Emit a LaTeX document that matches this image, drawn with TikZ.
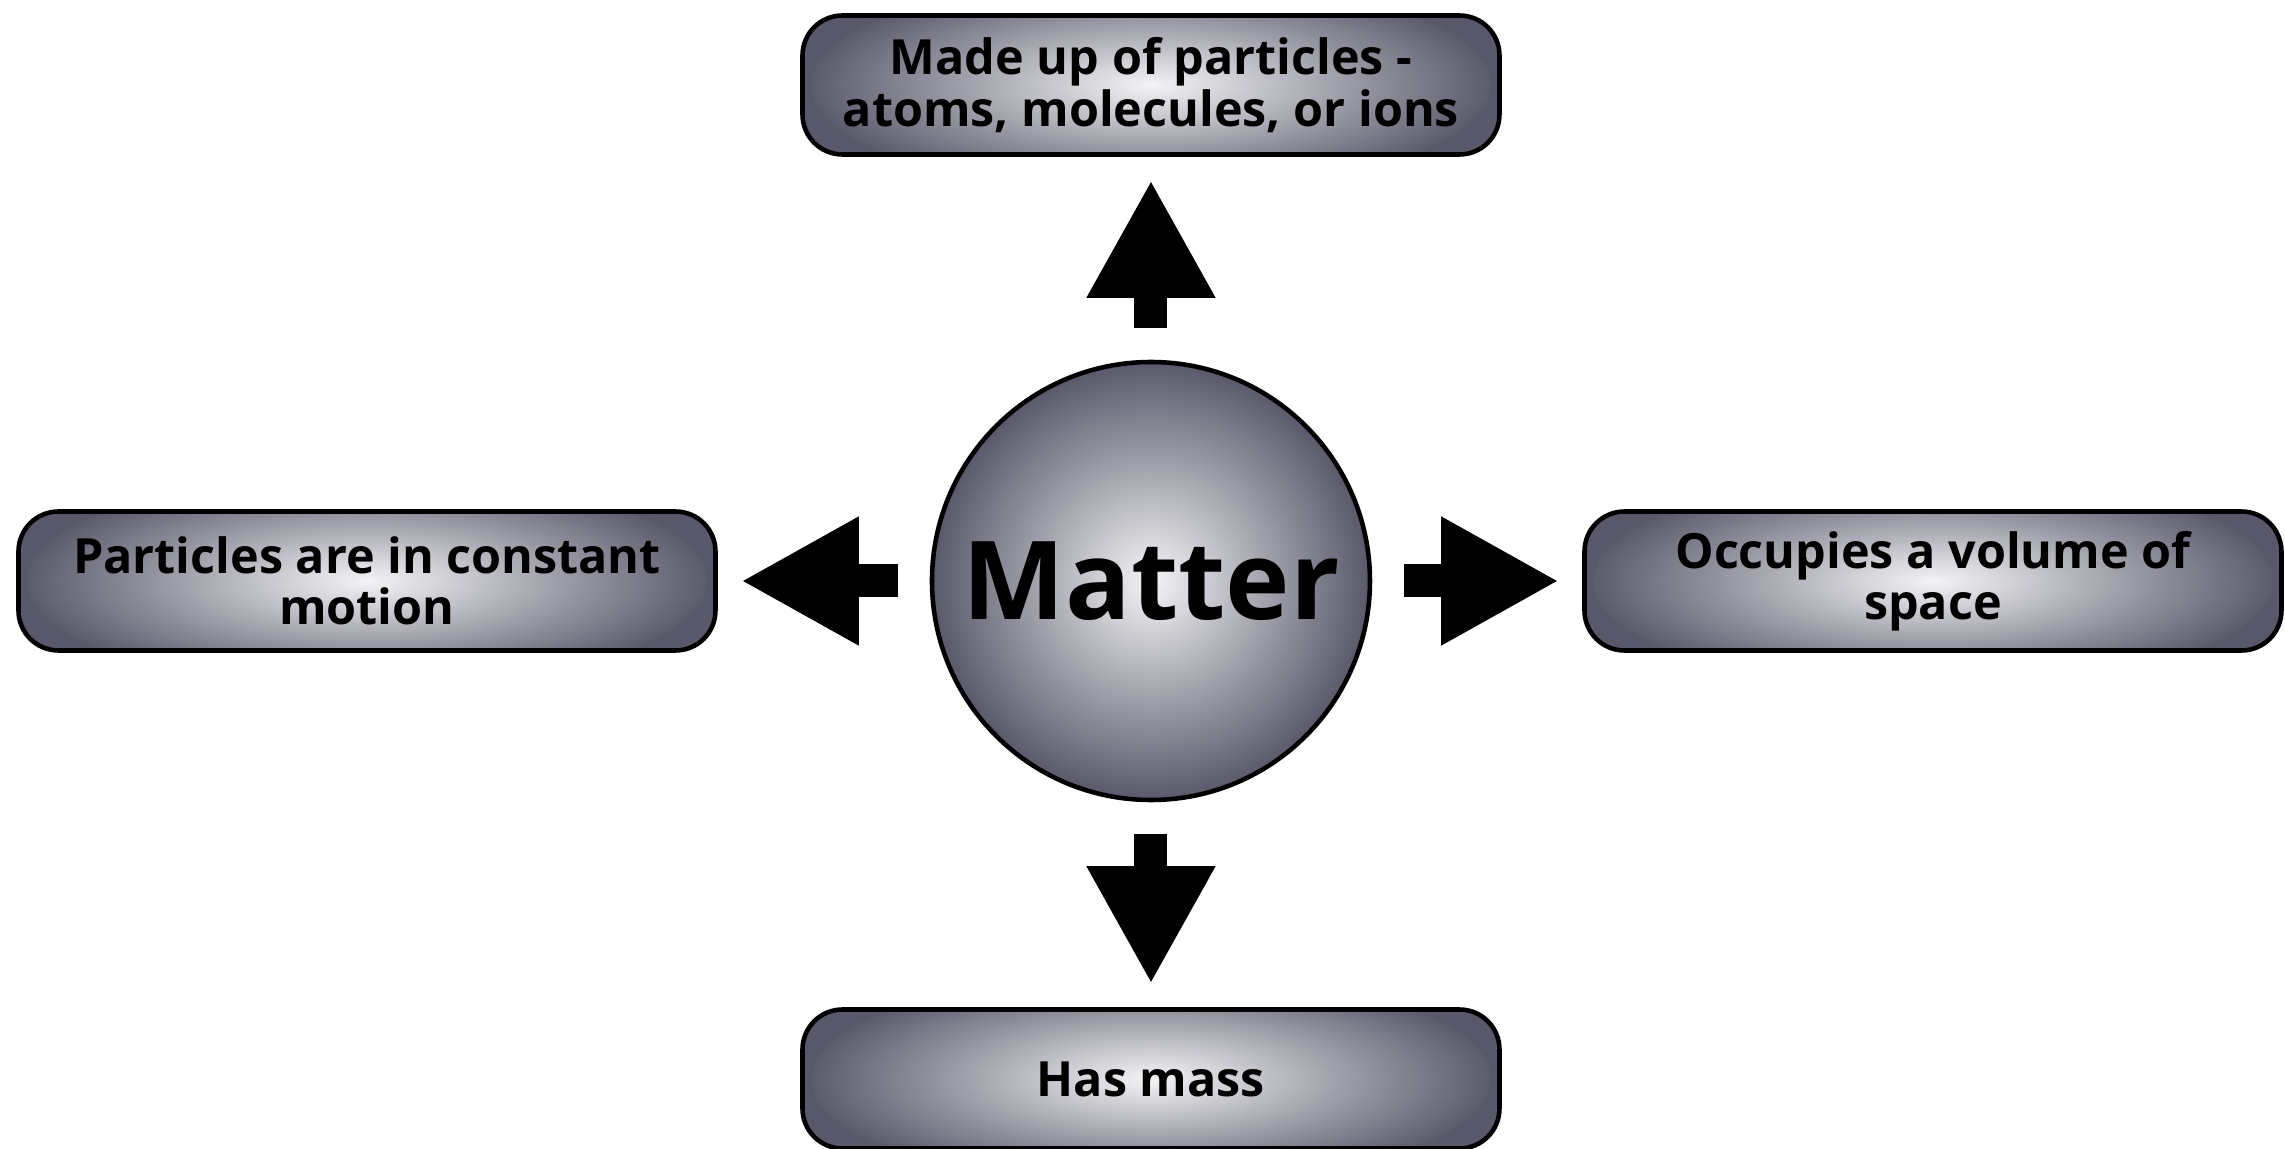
\documentclass[tikz,border=0pt]{standalone}
\usepackage{fontspec}
\setmainfont{Open Sans}
\usepackage{tikz}
\usetikzlibrary{positioning,arrows.meta,calc}
\definecolor{glowlite}{RGB}{244,244,246}
\definecolor{glowdark}{RGB}{88,88,106}

\begin{document}
\begin{tikzpicture}[
    font=\bfseries\fontsize{13.8}{14.6}\selectfont,
    fact/.style={
        draw=black,
        line width=1.3pt,
        rounded corners=0.4cm,
        minimum width=6.97cm,
        minimum height=1.39cm,
        align=center,
        fill=glowdark,
        path picture={\shade[inner color=glowlite, outer color=glowdark]
            (path picture bounding box.center) ellipse [x radius=3.4cm, y radius=1.1cm];}
    },
    core/.style={
        draw=black,
        line width=1.3pt,
        circle,
        minimum size=4.38cm,
        inner sep=0pt,
        fill=glowdark,
        path picture={\shade[inner color=glowlite, outer color=glowdark]
            (path picture bounding box.center) circle [radius=2.2cm];},
        font=\bfseries\fontsize{31}{33}\selectfont
    },
    fat/.style={
        line width=0.33cm,
        -{Triangle[width=1.2cm,length=1.18cm]},
        shorten <=0.32cm,
        shorten >=0.23cm
    }
]
\useasboundingbox (-11.51,-5.68) rectangle (11.34,5.81);

\node[core] (matter) at (0,0) {Matter};

\node[fact] (parts) at (0,4.96)
{Made up of particles -\\atoms, molecules, or ions};

\node[fact] (motion) at (-7.84,0)
{Particles are in constant\\motion};

\node[fact] (volume) at (7.82,0)
{Occupies a volume of\\space};

\node[fact] (mass) at (0,-4.98)
{Has mass};

\draw[fat] (matter) -- (parts);
\draw[fat] (matter) -- (motion);
\draw[fat] (matter) -- (volume);
\draw[fat] (matter) -- (mass);

\end{tikzpicture}
\end{document}
